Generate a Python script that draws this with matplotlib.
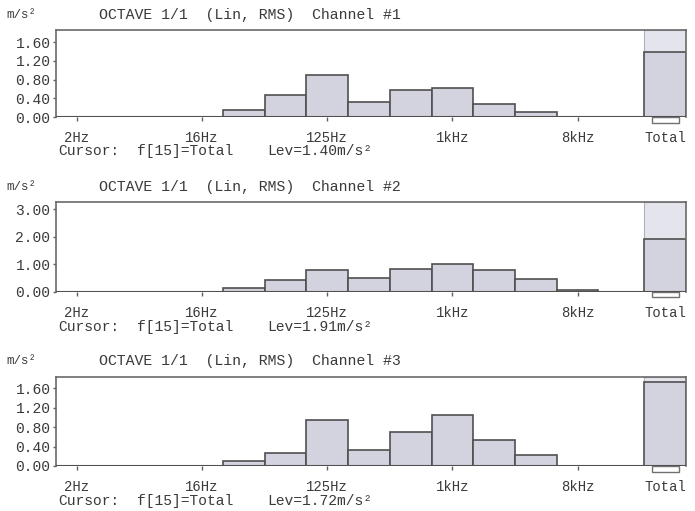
import matplotlib
matplotlib.use('Agg')
import matplotlib.pyplot as plt
from matplotlib.patches import Rectangle

# octave bands 2 Hz .. 16 kHz, then the overall total
bands = ['2Hz', '4Hz', '8Hz', '16Hz', '31.5Hz', '63Hz', '125Hz', '250Hz',
         '500Hz', '1kHz', '2kHz', '4kHz', '8kHz', '16kHz']
tick_bands = ['2Hz', '16Hz', '125Hz', '1kHz', '8kHz']

ch1 = [0, 0, 0, 0, 0.15, 0.48, 0.90, 0.32, 0.58, 0.63, 0.27, 0.10, 0, 0]
ch2 = [0, 0, 0, 0, 0.12, 0.42, 0.78, 0.49, 0.84, 1.02, 0.78, 0.47, 0.05, 0]
ch3 = [0, 0, 0, 0, 0.11, 0.26, 0.94, 0.32, 0.69, 1.06, 0.54, 0.22, 0, 0]
totals = [1.40, 1.91, 1.72]

yticks1 = [0.0, 0.4, 0.8, 1.2, 1.6]
yticks2 = [0.0, 1.0, 2.0, 3.0]
yticks3 = [0.0, 0.4, 0.8, 1.2, 1.6]
ymax = [1.86, 3.25, 1.84]

FONT = 'Liberation Mono'
TXT = '#3a3a3a'
EDGE = '#505050'
FILL = '#d3d3df'
FILL_MAX = '#e4e4ec'

fig = plt.figure(figsize=(6.95, 5.11), dpi=100)
fig.patch.set_facecolor('white')

rects = [(0.0806, 0.771, 0.9065, 0.170),
         (0.0806, 0.4292, 0.9065, 0.175),
         (0.0806, 0.0881, 0.9065, 0.1748)]

total_x = len(bands) + 0.1

for i, (vals, yt, top) in enumerate(zip([ch1, ch2, ch3], [yticks1, yticks2, yticks3], ymax)):
    ax = fig.add_axes(rects[i])
    xs = list(range(len(bands)))
    ax.bar(xs, vals, width=1.0, color=FILL, edgecolor=EDGE, linewidth=1.2, zorder=2)
    # lighter band above total up to the top of the range
    ax.bar([total_x], [top], width=1.0, color=FILL_MAX, edgecolor='#b0b0b8', linewidth=0.8, zorder=1)
    ax.bar([total_x], [totals[i]], width=1.0, color=FILL, edgecolor=EDGE, linewidth=1.2, zorder=2)
    ax.axhline(0, color=EDGE, linewidth=1.5, zorder=3)

    ax.set_xlim(-0.5, len(bands) + 0.6)
    ax.set_ylim(0, top)

    # cursor marker under the total bar
    ax.add_patch(Rectangle((total_x - 0.32, -0.065), 0.64, 0.065,
                           transform=ax.get_xaxis_transform(), clip_on=False,
                           facecolor='white', edgecolor='#707070', linewidth=1.0))

    tick_pos = [bands.index(b) for b in tick_bands] + [total_x]
    ax.set_xticks(tick_pos)
    ax.set_xticklabels(tick_bands + ['Total'], fontfamily=FONT, fontsize=10, color=TXT)
    ax.tick_params(axis='x', length=3, width=1, color='#606060', pad=7)
    ax.get_xticklines()[-2].set_visible(False)
    ax.set_yticks(yt)
    ax.set_yticklabels(['%.2f' % v for v in yt], fontfamily=FONT, fontsize=10.5, color=TXT)
    ax.tick_params(axis='y', length=2, width=1, color='#606060', pad=2)

    for s in ax.spines.values():
        s.set_color('#6a6a6a')
        s.set_linewidth(1.2)
    ax.spines['bottom'].set_visible(False)

    # header and cursor lines
    ax.text(-0.078, 1.17, 'm/s²', transform=ax.transAxes, fontfamily=FONT,
            fontsize=9, color=TXT, ha='left', va='center')
    ax.text(0.069, 1.17, 'OCTAVE 1/1  (Lin, RMS)  Channel #%d' % (i + 1),
            transform=ax.transAxes, fontfamily=FONT, fontsize=10.7, color=TXT,
            ha='left', va='center')
    ax.text(0.003, -0.39, 'Cursor:', transform=ax.transAxes, fontfamily=FONT,
            fontsize=10.5, color=TXT, ha='left', va='center')
    ax.text(0.128, -0.39, 'f[15]=Total', transform=ax.transAxes, fontfamily=FONT,
            fontsize=10.5, color=TXT, ha='left', va='center')
    ax.text(0.335, -0.39, 'Lev=%.2fm/s²' % totals[i], transform=ax.transAxes,
            fontfamily=FONT, fontsize=10.5, color=TXT, ha='left', va='center')

fig.savefig('out.png', dpi=100)
